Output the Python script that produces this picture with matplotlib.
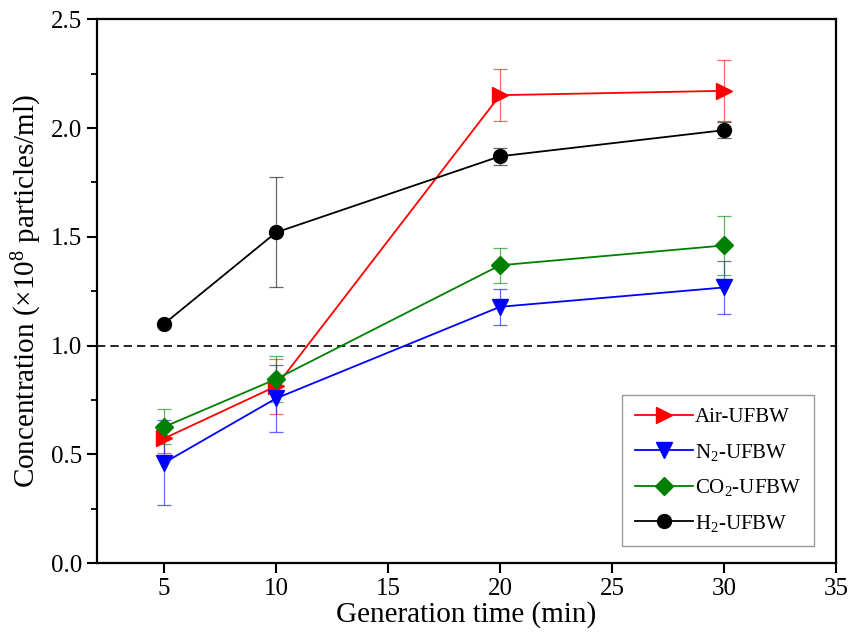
import matplotlib
matplotlib.use('Agg')
import matplotlib.pyplot as plt
from matplotlib.ticker import MultipleLocator

plt.rcParams['font.family'] = ['Liberation Serif', 'DejaVu Serif']
plt.rcParams['mathtext.fontset'] = 'custom'
plt.rcParams['mathtext.rm'] = 'Liberation Serif'
plt.rcParams['mathtext.it'] = 'Liberation Serif:italic'

# data
time_min = [5, 10, 20, 30]

air = [0.573, 0.813, 2.151, 2.171]
air_err = [0.067, 0.126, 0.12, 0.14]

n2 = [0.461, 0.757, 1.178, 1.267]
n2_err = [0.196, 0.154, 0.083, 0.122]

co2 = [0.626, 0.846, 1.369, 1.46]
co2_err = [0.08, 0.105, 0.08, 0.137]

h2 = [1.10, 1.52, 1.870, 1.99]
h2_err = [0.0, 0.253, 0.04, 0.037]

series = [
    ('Air-UFBW', air, air_err, '#ff0000', '>'),
    ('N$_2$-UFBW', n2, n2_err, '#0000ff', 'v'),
    ('CO$_2$-UFBW', co2, co2_err, '#008000', 'D'),
    ('H$_2$-UFBW', h2, h2_err, '#000000', 'o'),
]

fig = plt.figure(figsize=(8.53, 6.42), dpi=100)
ax = fig.add_axes([0.1137, 0.123, 0.8663, 0.847])

ax.axhline(1.0, color='black', lw=1.2, ls=(0, (5, 3)), zorder=1)

for label, vals, errs, col, mk in series:
    ax.errorbar(time_min, vals, yerr=errs, fmt='none', ecolor=col, elinewidth=0.9,
                capsize=5, capthick=0.9, alpha=0.6, zorder=2)
    ax.plot(time_min, vals, color=col, lw=1.3, marker=mk,
            markersize=11 if mk in '>v' else (9 if mk == 'D' else 10),
            label=label, zorder=3)

ax.set_xlim(2, 35)
ax.set_ylim(0, 2.5)
ax.set_xticks([5, 10, 15, 20, 25, 30, 35])
ax.yaxis.set_major_locator(MultipleLocator(0.5))
ax.yaxis.set_minor_locator(MultipleLocator(0.25))
ax.yaxis.set_major_formatter(matplotlib.ticker.FormatStrFormatter('%.1f'))

for s in ax.spines.values():
    s.set_linewidth(1.6)
ax.tick_params(axis='both', which='major', direction='out', length=7, width=1.5,
               labelsize=18, top=False, right=False)
ax.tick_params(axis='y', which='minor', direction='out', length=4, width=1.3)

ax.set_xlabel('Generation time (min)', fontsize=21, labelpad=1)
ax.set_ylabel('Concentration ($\\times$10$^8$ particles/ml)', fontsize=21, labelpad=5)

leg = ax.legend(loc='lower right', bbox_to_anchor=(0.970, 0.031), borderaxespad=0,
                fontsize=15, frameon=True, fancybox=False, edgecolor='#808080',
                handlelength=2.8, handletextpad=0.1, labelspacing=0.7,
                borderpad=0.6)
leg.get_frame().set_linewidth(1.0)

fig.savefig('out.png', dpi=100)
